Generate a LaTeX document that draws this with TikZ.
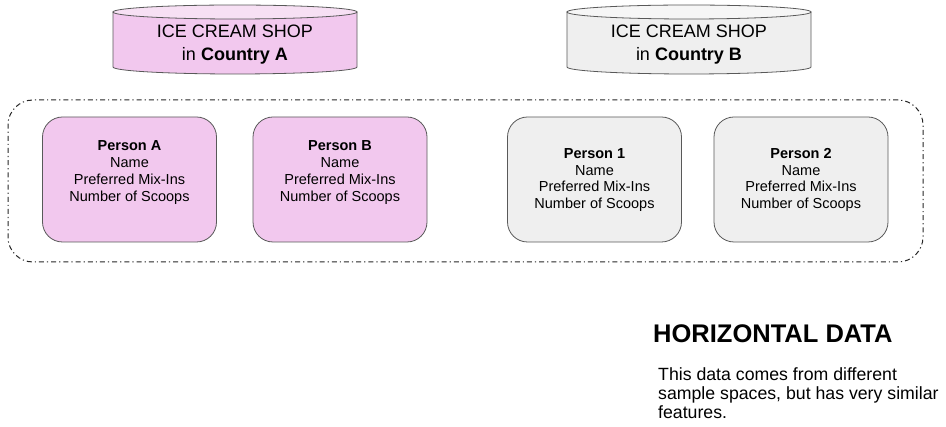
\documentclass[tikz,border=0pt]{standalone}
\usepackage{fontspec}
\setmainfont{Liberation Sans}

\definecolor{shoppink}{HTML}{F2C8EE}
\definecolor{shoppinktop}{HTML}{F7E0F4}
\definecolor{shopgray}{HTML}{EFEFEF}
\definecolor{shopgraytop}{HTML}{F6F6F6}
\definecolor{edgegray}{HTML}{595959}

\tikzset{
    shoptext/.style={align=center, inner sep=0pt, font=\fontsize{18}{23}\selectfont},
    personbox/.style={draw=edgegray, line width=0.8pt, rounded corners=20pt, minimum width=174pt, minimum height=125pt, inner sep=0pt},
    persontext/.style={align=center, inner sep=0pt, font=\fontsize{14.5}{16.7}\selectfont},
    groupbox/.style={draw=black!85, line width=1pt, rounded corners=25pt, dash pattern=on 5pt off 3pt on 1.2pt off 3pt, minimum width=915pt, minimum height=162pt, inner sep=0pt}
}

\begin{document}
\begin{tikzpicture}[x=1pt,y=-1pt]
\useasboundingbox (0,0) rectangle (946,427);

% Draw the shops
\foreach \cx/\body/\top/\country in {235/shoppink/shoppinktop/A, 689/shopgray/shopgraytop/B} {
    \filldraw[fill=\body, draw=edgegray, line width=0.8pt] (\cx-122,12) -- (\cx-122,67) arc[start angle=180, end angle=360, x radius=122pt, y radius=7pt] -- (\cx+122,12) -- cycle;
    \filldraw[fill=\top, draw=edgegray, line width=0.8pt] (\cx,12) ellipse [x radius=122pt, y radius=7pt];
    \node[shoptext] (shop\country) at (\cx,45) {ICE CREAM SHOP\\in \textbf{Country \country}};
}

% Draw the group of people
\node[groupbox] (people) at (465.5,181) {};

\foreach \name/\cx/\col/\who/\ty in {pA/129.5/shoppink/Person A/172.5, pB/340/shoppink/Person B/172.5, p1/594.5/shopgray/Person 1/180, p2/801/shopgray/Person 2/180} {
    \node[personbox, fill=\col] (\name) at (\cx,179.5) {};
    \node[persontext] (\name-info) at (\cx,\ty) {\textbf{\who}\\Name\\Preferred Mix-Ins\\Number of Scoops};
}

% Draw the explanation
\node[anchor=base west, inner sep=0pt, font=\bfseries\fontsize{25.5}{30}\selectfont] (title) at (653,343) {HORIZONTAL DATA};
\node[anchor=north west, align=left, inner sep=0pt, font=\fontsize{17.7}{19}\selectfont] (note) at (658,367) {This data comes from different\\sample spaces, but has very similar\\features.};

\end{tikzpicture}
\end{document}
